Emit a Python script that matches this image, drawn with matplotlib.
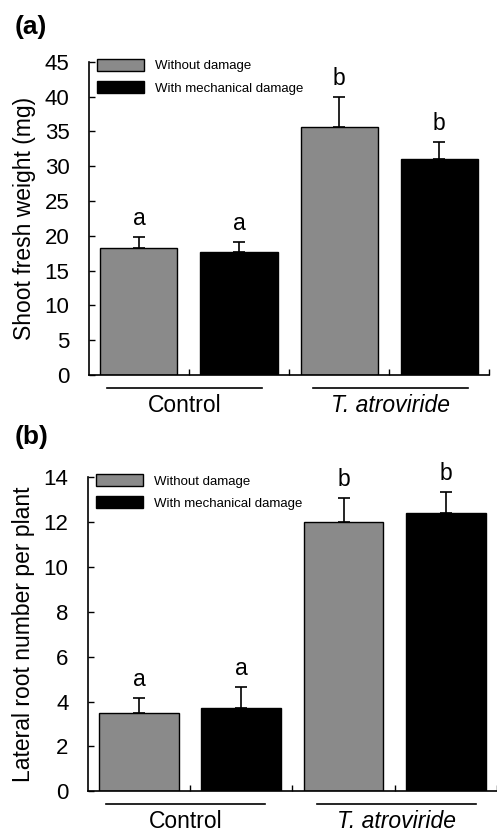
import matplotlib
matplotlib.use('Agg')
import matplotlib.pyplot as plt
from matplotlib.patches import Patch

plt.rcParams['font.family'] = ['Liberation Sans', 'DejaVu Sans']

# Datos
grupos = ['Control', 'T. atroviride']
tratamientos = ['Without damage', 'With mechanical damage']
colores = ['#8a8a8a', '#000000']

# (a) peso fresco del brote (mg): [control sin daño, control con daño, T sin daño, T con daño]
peso_media = [18.2, 17.7, 35.7, 31.0]
peso_error = [1.6, 1.4, 4.3, 2.5]
peso_letras = ['a', 'a', 'b', 'b']

# (b) número de raíces laterales por planta
raices_media = [3.5, 3.7, 12.0, 12.4]
raices_error = [0.65, 0.95, 1.05, 0.95]
raices_letras = ['a', 'a', 'b', 'b']


def dibujar_panel(ax, medias, errores, letras, ylim, yticks, ylabel, ancho):
    x = range(len(medias))
    col = [colores[i % 2] for i in x]
    ax.bar(x, medias, width=ancho, color=col, edgecolor='black', linewidth=1.0, zorder=2)
    ax.errorbar(x, medias, yerr=[[0] * len(medias), errores], fmt='none',
                ecolor='black', elinewidth=1.2, capsize=4, capthick=1.2, zorder=1)
    for i in x:
        ax.annotate(letras[i], (i, medias[i] + errores[i]), xytext=(0, 5),
                    textcoords='offset points', ha='center', va='bottom', fontsize=16.5)
    ax.set_xlim(-0.5, len(medias) - 0.5)
    ax.set_ylim(*ylim)
    ax.set_yticks(yticks)
    ax.tick_params(axis='y', labelsize=16, direction='in', length=4, width=1, pad=14)
    ax.set_xticks([0.5, 1.5, 2.5, 3.5])
    ax.set_xticklabels([])
    ax.tick_params(axis='x', direction='in', length=4, width=1)
    ax.spines['top'].set_visible(False)
    ax.spines['right'].set_visible(False)
    ax.spines['left'].set_linewidth(1.2)
    ax.spines['bottom'].set_linewidth(1.2)
    ax.set_ylabel(ylabel, fontsize=16.5, labelpad=6)

    # Líneas y etiquetas de grupo bajo el eje
    tr = ax.get_xaxis_transform()
    tramos = [(-0.32, 1.23), (1.74, 3.29)]
    for (x0, x1), nombre in zip(tramos, grupos):
        ax.plot([x0, x1], [-0.04, -0.04], color='black', lw=1.2,
                transform=tr, clip_on=False)
        estilo = 'italic' if nombre.startswith('T.') else 'normal'
        ax.text((x0 + x1) / 2, -0.06, nombre, transform=tr, ha='center',
                va='top', fontsize=16.5, style=estilo)

    handles = [Patch(facecolor=colores[0], edgecolor='black', linewidth=1.0),
               Patch(facecolor=colores[1], edgecolor='black', linewidth=1.0)]
    ax.legend(handles, tratamientos, loc='upper left', bbox_to_anchor=(0.0, 1.035),
              frameon=False, fontsize=9.5, handlelength=3.6, handleheight=1.05,
              labelspacing=0.65, borderaxespad=0.2, handletextpad=0.8)


fig = plt.figure(figsize=(4.97, 8.33), dpi=100)

ax1 = fig.add_axes([0.179, 0.5498, 0.805, 0.376])
dibujar_panel(ax1, peso_media, peso_error, peso_letras, (0, 45),
              range(0, 46, 5), 'Shoot fresh weight (mg)', 0.77)

ax2 = fig.add_axes([0.177, 0.05, 0.823, 0.3774])
dibujar_panel(ax2, raices_media, raices_error, raices_letras, (0, 14),
              range(0, 15, 2), 'Lateral root number per plant', 0.78)

fig.text(0.03, 0.968, '(a)', fontsize=19, fontweight='bold', va='center')
fig.text(0.03, 0.475, '(b)', fontsize=19, fontweight='bold', va='center')

fig.savefig('out.png', dpi=100)
